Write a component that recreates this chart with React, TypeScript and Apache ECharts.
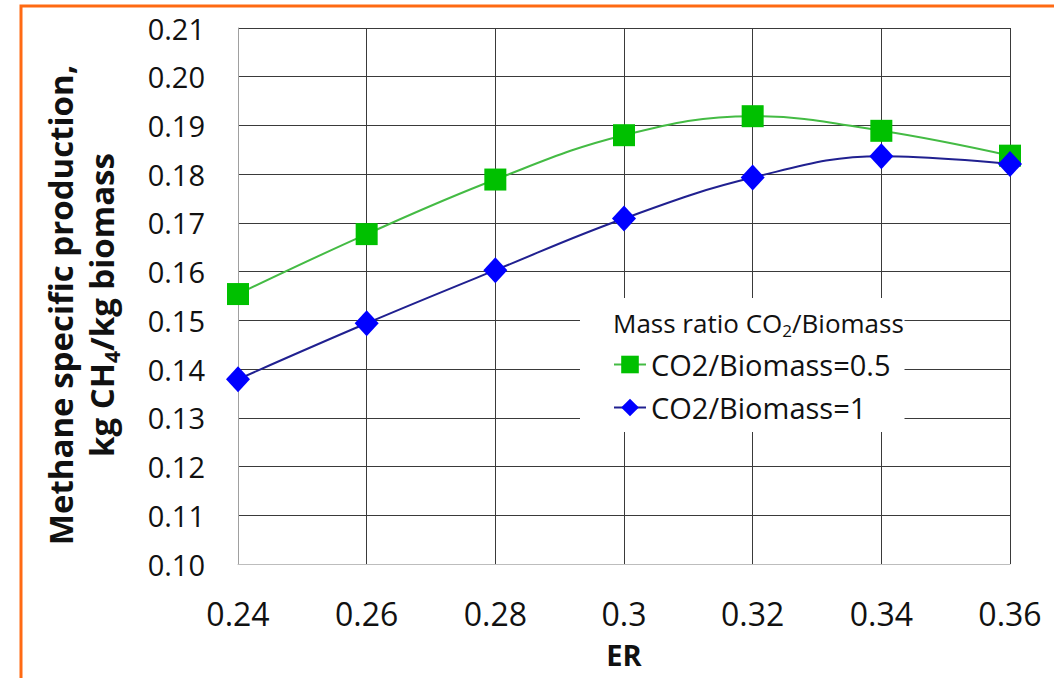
import React, { useEffect, useRef } from "react";
import * as echarts from "echarts";

const erLabels = ["0.24", "0.26", "0.28", "0.3", "0.32", "0.34", "0.36"];
const ratio05 = [0.1554, 0.1677, 0.1789, 0.188, 0.1919, 0.1889, 0.1838];
const ratio1 = [0.1379, 0.1494, 0.1603, 0.1709, 0.1793, 0.1837, 0.1821];
const seriesNames = ["CO2/Biomass=0.5", "CO2/Biomass=1"];
const yMin = 0.1;
const yMax = 0.21;
const yStep = 0.01;

const FONT = "'Open Sans', 'Noto Sans', sans-serif";

export default function App() {
  const ref = useRef<HTMLDivElement>(null);
  useEffect(() => {
    if (!ref.current) return;
    const chart = echarts.init(ref.current, undefined, { renderer: "svg" });
    chart.setOption({
      animation: false,
      backgroundColor: "#ffffff",
      grid: { left: 238, top: 28, right: 44, bottom: 114 },
      xAxis: {
        type: "category",
        data: erLabels,
        boundaryGap: false,
        name: "ER",
        nameLocation: "middle",
        nameGap: 76,
        nameTextStyle: { fontSize: 29, fontWeight: "bold", color: "#111", fontFamily: FONT },
        axisLine: { show: true, lineStyle: { color: "#bdbdbd", width: 1 } },
        axisTick: { show: false },
        axisLabel: { fontSize: 32, color: "#111", margin: 33, fontFamily: FONT },
        splitLine: { show: true, lineStyle: { color: "#3a3a3a", width: 1 } },
      },
      yAxis: {
        type: "value",
        min: yMin,
        max: yMax,
        interval: yStep,
        name: "{a|Methane specific production,}\n{a|kg CH}{s|4}{a|/kg biomass}",
        nameLocation: "middle",
        nameRotate: 90,
        nameGap: 116,
        nameTextStyle: {
          fontFamily: FONT,
          color: "#111",
          padding: [0, 18, 0, 0],
          rich: {
            a: { fontSize: 33, fontWeight: "bold", lineHeight: 41, fontFamily: FONT, color: "#111" },
            s: { fontSize: 21, fontWeight: "bold", lineHeight: 20, verticalAlign: "bottom", fontFamily: FONT, color: "#111" },
          },
        },
        axisLine: { show: true, lineStyle: { color: "#a0a0a0", width: 1 } },
        axisTick: { show: false },
        axisLabel: {
          fontSize: 29,
          color: "#111",
          margin: 33,
          fontFamily: FONT,
          formatter: (v: number) => v.toFixed(2),
        },
        splitLine: { show: true, lineStyle: { color: "#3a3a3a", width: 1 } },
      },
      legend: {
        orient: "vertical",
        left: 580,
        top: 298,
        padding: [52, 14, 10, 33],
        itemGap: 14,
        itemWidth: 32,
        itemHeight: 22,
        backgroundColor: "#ffffff",
        data: seriesNames,
        textStyle: { fontSize: 29, color: "#111", fontFamily: FONT },
      },
      graphic: [
        {
          type: "polyline",
          shape: { points: [[21, 678], [21, 6], [1054, 6]] },
          style: { stroke: "#ff6a13", lineWidth: 3, fill: null },
          z: 100,
        },
        {
          type: "text",
          x: 613,
          y: 323,
          z: 100,
          style: {
            text: "{a|Mass ratio CO}{s|2}{a|/Biomass}",
            verticalAlign: "middle",
            rich: {
              a: { fontSize: 26, lineHeight: 32, fontFamily: FONT, fill: "#111" },
              s: { fontSize: 17, lineHeight: 16, verticalAlign: "bottom", fontFamily: FONT, fill: "#111" },
            },
          },
        },
      ],
      series: [
        {
          name: seriesNames[0],
          type: "line",
          data: ratio05,
          smooth: 0.4,
          symbol: "rect",
          symbolSize: 22,
          itemStyle: { color: "#00c000" },
          lineStyle: { color: "#44bb44", width: 2 },
          z: 3,
        },
        {
          name: seriesNames[1],
          type: "line",
          data: ratio1,
          smooth: 0.4,
          symbol: "diamond",
          symbolSize: [24, 26],
          itemStyle: { color: "#0000ff" },
          lineStyle: { color: "#202090", width: 2 },
          z: 4,
        },
      ],
    });
    return () => chart.dispose();
  }, []);
  return (
    <div
      ref={ref}
      style={{ position: "fixed", left: 0, top: 0, width: 1054, height: 678 }}
    />
  );
}
